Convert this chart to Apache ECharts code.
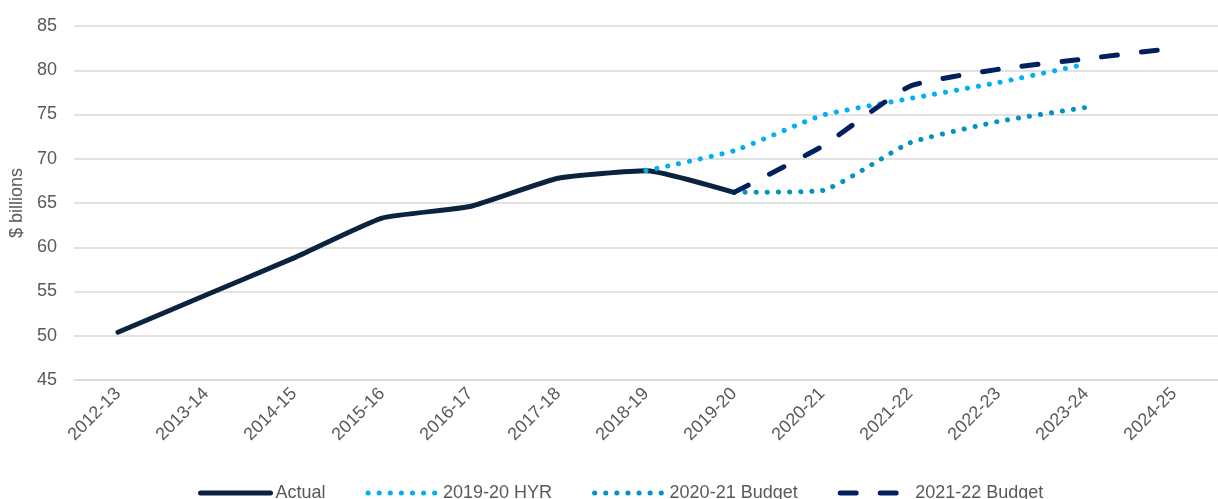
<!DOCTYPE html>
<html>
<head>
<meta charset="utf-8">
<script src="https://cdn.jsdelivr.net/npm/echarts@6/dist/echarts.min.js"></script>
<style>
  html, body { margin: 0; padding: 0; background: #fff; }
  #chart { width: 1218px; height: 499px; }
</style>
</head>
<body>
<div id="chart"></div>
<script>
// financial years on the x axis
const years = ["2012-13", "2013-14", "2014-15", "2015-16", "2016-17", "2017-18", "2018-19",
  "2019-20", "2020-21", "2021-22", "2022-23", "2023-24", "2024-25"];

// $ billions
const actual = [50.4, 54.6, 58.8, 63.3, 64.6, 67.8, 68.65, 66.2, null, null, null, null, null];
const hyr1920 = [null, null, null, null, null, null, 68.65, 70.9, 74.9, 76.8, 78.6, 80.7, null];
const budget2021 = [null, null, null, null, null, null, null, 66.2, 66.4, 71.8, 74.2, 75.8, null];
const budget2122 = [null, null, null, null, null, null, null, 66.2, 71.4, 78.2, 80.1, 81.3, 82.5];

const textColor = "#595959";
const font = "Liberation Sans";

const chart = echarts.init(document.getElementById("chart"));

const lineSeries = (name, data, color, width, dash) => ({
  name: name,
  type: "line",
  data: data,
  symbol: "none",
  smooth: 0.15,
  connectNulls: false,
  lineStyle: {
    color: color,
    width: width,
    type: dash,
    cap: "round",
    join: "round",
  },
  itemStyle: { color: color },
});

// legend entry: no marker, line as thick as in the plot
const legendItem = (name, width) => ({
  name: name,
  itemStyle: { opacity: 0 },
  lineStyle: { width: width },
});

chart.setOption({
  animation: false,
  grid: {
    left: 74,
    top: 26,
    width: 1156,
    bottom: 119,
  },
  legend: {
    top: 479,
    left: 193,
    itemWidth: 70,
    itemHeight: 14,
    itemGap: 40,
    textStyle: { color: textColor, fontSize: 18, fontFamily: font },
    data: [
      legendItem("Actual", 5),
      legendItem("2019-20 HYR", 5),
      legendItem("2020-21 Budget", 5),
      legendItem("2021-22 Budget", 5),
    ],
  },
  xAxis: {
    type: "category",
    data: years,
    boundaryGap: true,
    axisTick: { show: false },
    axisLine: { lineStyle: { color: "#d9d9d9", width: 1.5 } },
    axisLabel: {
      rotate: 45,
      margin: 11,
      color: textColor,
      fontSize: 18,
      fontFamily: font,
    },
  },
  yAxis: {
    type: "value",
    min: 45,
    max: 85,
    interval: 5,
    name: "$ billions",
    nameLocation: "middle",
    nameGap: 48,
    nameTextStyle: { color: textColor, fontSize: 18, fontFamily: font },
    axisLabel: { color: textColor, fontSize: 18, fontFamily: font, margin: 17 },
    splitLine: { lineStyle: { color: "#d9d9d9", width: 1.5 } },
  },
  series: [
    lineSeries("Actual", actual, "#0c2340", 5, "solid"),
    lineSeries("2019-20 HYR", hyr1920, "#00b0f0", 5, [0.1, 11]),
    lineSeries("2020-21 Budget", budget2021, "#0093c4", 5, [0.1, 11]),
    lineSeries("2021-22 Budget", budget2122, "#00205f", 5, [16, 24]),
  ],
});
</script>
</body>
</html>
